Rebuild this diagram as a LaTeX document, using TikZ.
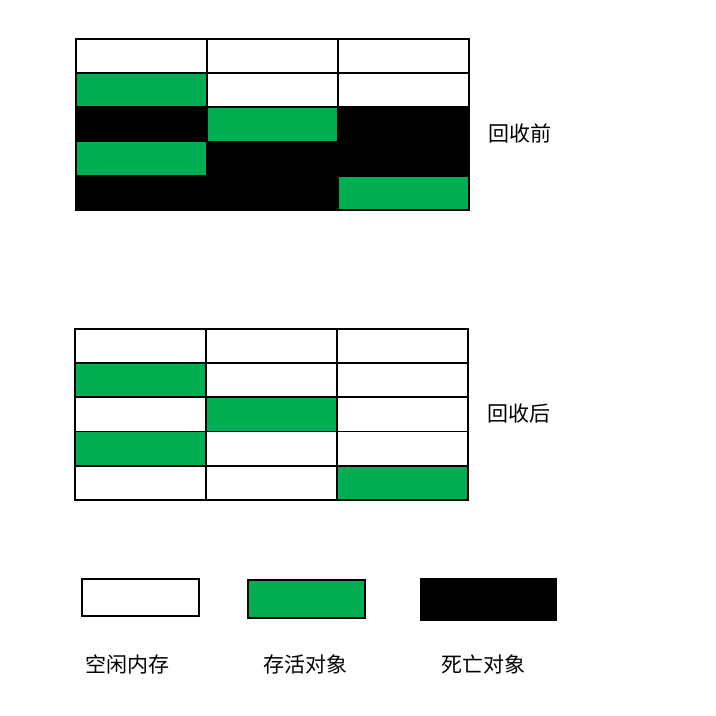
\documentclass[tikz,border=0pt]{standalone}
\usepackage{fontspec}
\newfontfamily\cjk{Noto Sans CJK SC}
\usetikzlibrary{positioning}
\definecolor{alivegreen}{RGB}{0,173,80}
\begin{document}
\begin{tikzpicture}[
  x=1pt, y=-1pt,
  cell/.style={draw, line width=1.5pt, minimum width=131pt, minimum height=34pt, inner sep=0pt, outer sep=0pt, anchor=north west},
  free/.style={cell, fill=white},
  alive/.style={cell, fill=alivegreen},
  dead/.style={cell, fill=black},
  label/.style={font=\cjk\fontsize{21pt}{24pt}\selectfont, inner sep=0pt}
]
\useasboundingbox (0,0) rectangle (716,716);

% before collection
\foreach \st [count=\i from 0] in {free,free,free, alive,free,free, dead,alive,dead, alive,dead,dead, dead,dead,alive} {
  \pgfmathtruncatemacro\r{\i/3}
  \pgfmathtruncatemacro\c{mod(\i,3)}
  \node[\st] (before-\r-\c) at (76+131*\c, 39+34.2*\r) {};
}
\node[label] (before) at (520,133) {回收前};

% after collection
\foreach \st [count=\i from 0] in {free,free,free, alive,free,free, free,alive,free, alive,free,free, free,free,alive} {
  \pgfmathtruncatemacro\r{\i/3}
  \pgfmathtruncatemacro\c{mod(\i,3)}
  \node[\st] (after-\r-\c) at (75+131*\c, 329+34.2*\r) {};
}
\node[label] (after) at (519,414) {回收后};

% legend
\node[free, minimum width=117pt, minimum height=37pt] (key-free) at (82,579) {};
\node[alive, minimum width=117pt, minimum height=38pt] (key-alive) at (248,580) {};
\node[dead, minimum width=135pt, minimum height=41pt] (key-dead) at (421,579) {};
\node[label] (txt-free) at (127,664) {空闲内存};
\node[label] (txt-alive) at (305,664) {存活对象};
\node[label] (txt-dead) at (483,664) {死亡对象};

\end{tikzpicture}
\end{document}
